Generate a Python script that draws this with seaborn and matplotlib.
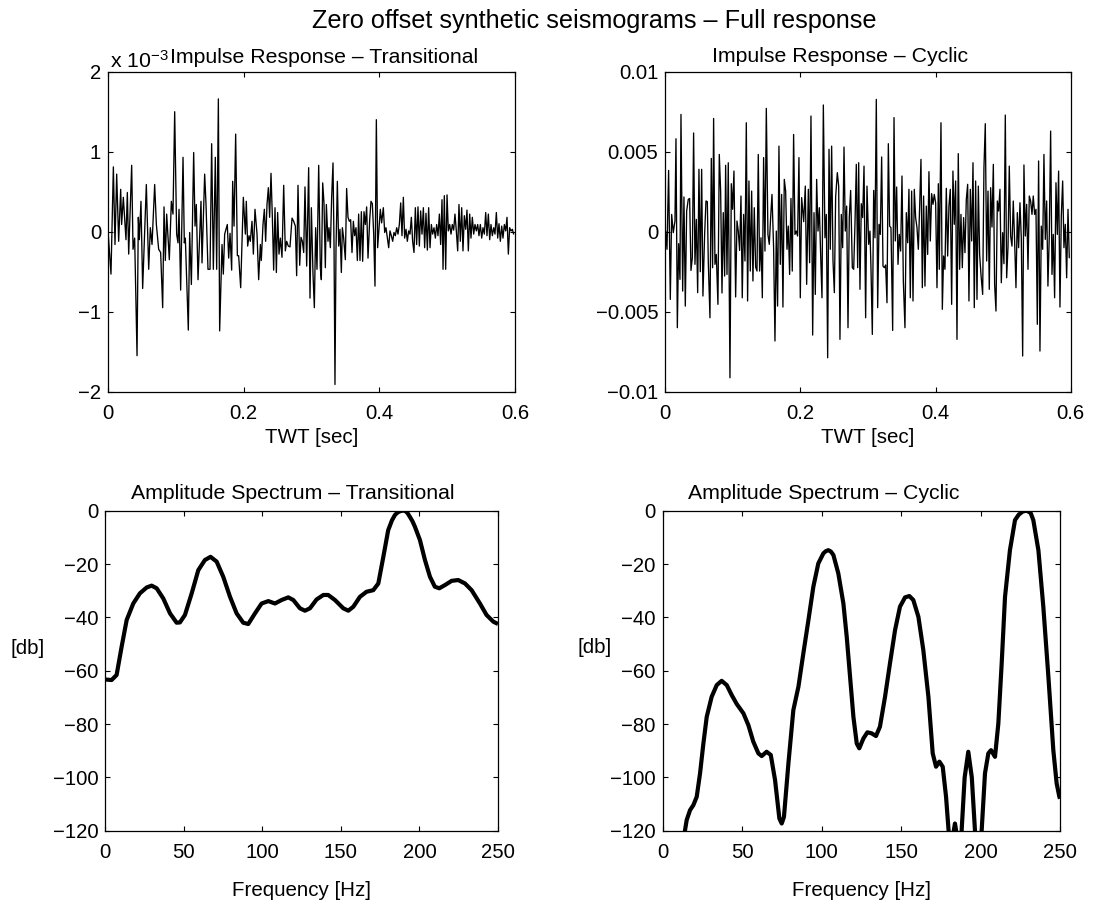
import numpy as np
import pandas as pd
import matplotlib
matplotlib.use("Agg")
import matplotlib.pyplot as plt
import seaborn as sns
from matplotlib.ticker import FixedLocator, FixedFormatter

# ---------------- data ----------------
# Impulse response - Transitional: time [ms], amplitude [x 1e-3]
trans_t_ms = [
    0.0, 4.4, 7.9, 10.3, 12.8, 15.7, 18.7, 20.1, 22.6, 26.5, 28.5, 30.5, 34.9, 36.9, 39.3, 42.8,
    44.7, 46.2, 48.6, 51.1, 56.5, 60.0, 62.4, 64.9, 68.8, 71.3, 74.7, 77.6, 80.6, 82.6, 84.5, 86.5,
    90.4, 93.4, 95.8, 98.3, 101.2, 103.2, 104.7, 107.1, 110.6, 112.5, 114.0, 118.4, 120.4, 122.9,
    126.3, 128.3, 130.2, 132.7, 137.1, 138.6, 142.5, 144.5, 147.4, 150.4, 152.8, 155.3, 158.2,
    160.2, 162.7, 164.6, 168.1, 170.0, 172.0, 175.9, 177.9, 179.9, 182.3, 183.8, 185.8, 188.2,
    190.7, 192.6, 195.6, 199.5, 202.5,
    203.9, 205.9, 207.9, 209.8, 212.3, 214.3, 216.7, 219.7, 222.1, 224.6,
    226.0, 228.5, 230.5, 232.4, 234.4, 236.4, 238.3, 240.3, 242.3, 244.2,
    246.2, 248.2, 250.1, 252.1, 254.1, 256.5, 259.0, 261.4, 263.4, 265.8,
    268.3, 271.3, 273.7, 276.2, 278.1, 280.1, 282.6, 284.5, 286.5, 288.5,
    290.4, 292.9, 295.8, 297.8, 299.8, 302.2, 304.2, 306.1, 308.1, 310.6,
    313.0, 314.5, 316.5, 318.4, 320.4, 321.9, 324.3, 325.8, 327.8, 329.7,
    331.7, 333.2, 334.6, 336.1, 338.1, 340.1, 342.0, 344.0, 345.5, 347.4,
    349.9, 351.8, 353.8, 355.8, 357.7, 359.7, 361.7, 363.6, 365.6, 367.6,
    369.5, 371.5, 373.5, 375.4, 377.4, 379.4, 381.3, 383.3, 385.8, 387.7,
    389.7, 391.7, 393.6, 395.6, 397.5, 399.5, 401.5, 403.4,
    405.9, 407.9, 409.8, 411.8, 413.8, 415.7, 417.7, 419.7, 421.6, 423.6,
    425.6, 427.5, 429.5, 431.5, 433.4, 435.4, 437.3, 439.3, 441.3, 443.2,
    445.2, 447.2, 449.1, 451.1, 453.1, 455.0, 457.0, 459.0, 460.9, 462.9,
    464.9, 466.8, 468.8, 470.8, 472.7, 474.7, 476.7, 478.6, 480.6, 482.6,
    484.5, 486.5, 488.5, 490.4, 492.4, 493.9, 495.8, 497.8, 499.8, 501.7,
    503.7, 505.7, 507.6, 509.6, 511.5, 513.5, 515.5, 517.4, 519.4, 521.4,
    523.3, 525.3, 527.3, 529.2, 531.2, 533.2, 535.1, 537.1, 539.1, 541.0,
    543.0, 545.0, 546.9, 548.9, 550.9, 552.8, 554.8, 556.8, 558.7, 560.7,
    562.7, 564.6, 566.6, 568.6, 570.5, 572.5, 574.5, 576.4, 578.4, 580.4,
    582.3, 584.3, 586.3, 588.2, 590.2, 592.1, 594.1, 596.1, 598.0,
]
trans_amp = [
    0.01, -0.53, 0.81, -0.16, 0.72, -0.12, 0.53, 0.09, 0.43, -0.10,
    0.49, -0.28, 0.83, -0.22, -0.08, -1.55, 0.18, -0.10, 0.38, -0.71,
    0.59, -0.47, 0.05, -0.16, 0.59, 0.09, -0.22, -0.26, -0.95, 0.31,
    -0.36, 0.22, -0.35, 0.38, 0.22, 1.50, -0.03, -0.14, 0.28, -0.73,
    0.93, -0.14, -0.08, -1.23, -0.01, -0.66, 0.99, 0.07, 0.34, -0.60,
    0.38, -0.39, 0.72, 0.34, -0.47, -0.47, 1.10, -0.47, 0.93, -0.47,
    1.66, -1.24, -0.16, -0.53, -0.03, 0.09, -0.33, -0.02, -0.48, 0.63,
    0.07, 1.22, -0.30, -0.30, -0.70, 0.43, -0.03,
    0.38, -0.18, -0.05, -0.12, 0.13, -0.28, 0.28, -0.03, -0.60, -0.16,
    -0.36, 0.09, 0.28, -0.12, 0.34, 0.55, 0.18, 0.73, 0.18, -0.48,
    0.30, -0.51, 0.24, -0.28, -0.08, -0.32, 0.58, -0.24, -0.12, -0.18,
    -0.19, 0.17, 0.13, 0.07, -0.55, 0.58, -0.42, -0.07, -0.12, -0.26,
    0.56, -0.43, 0.80, -0.83, 0.30, -0.53, -0.95, 0.05, -0.47, 0.83,
    -0.45, -0.60, 0.61, 0.36, -0.45, 0.34, -0.12, 0.05, -0.20, 0.43,
    0.86, -0.16, -1.91, -0.22, 0.63, -0.18, 0.03, -0.51, 0.05, -0.08,
    -0.35, 0.54, 0.18, 0.13, 0.15, -0.26, 0.13, -0.05, 0.05, -0.36,
    0.22, -0.36, 0.25, -0.37, 0.25, 0.09, 0.31, -0.33, 0.15, 0.38,
    0.35, -0.03, -0.68, 1.40, -0.20, 0.05, 0.28, 0.11,
    0.30, -0.01, 0.05, -0.08, -0.20, 0.01, -0.05, -0.12, -0.01, -0.05,
    0.05, -0.03, 0.09, 0.36, -0.05, 0.43, -0.08, 0.03, -0.12, 0.01,
    -0.03, 0.18, -0.12, -0.26, 0.30, -0.16, 0.31, -0.18, 0.26, -0.03,
    0.30, -0.20, 0.23, -0.23, 0.30, -0.20, 0.09, -0.03, 0.05, -0.08,
    0.09, -0.05, 0.22, -0.16, 0.40, -0.47, 0.45, -0.47, 0.46, 0.01,
    0.09, -0.03, 0.09, 0.02, 0.22, 0.01, -0.24, 0.34, -0.12, 0.30,
    -0.24, 0.20, 0.03, 0.27, -0.24, 0.22, -0.08, 0.18, -0.03, 0.09,
    0.01, 0.09, -0.05, 0.09, -0.08, 0.05, -0.03, 0.24, -0.05, 0.22,
    -0.10, 0.09, -0.05, 0.05, -0.03, 0.24, -0.08, 0.10, -0.12, 0.07,
    -0.08, 0.09, 0.01, 0.18, -0.28, 0.05, 0.01, 0.03, -0.03,
]

# Impulse response - Cyclic: time [ms], amplitude [x 1e-3]
cyc_t_ms = [
    0.5, 2.5, 4.9, 7.4, 9.4, 11.8, 14.3, 15.8, 17.8, 19.7,
    21.7, 23.2, 25.7, 27.6, 29.6, 31.6, 34.0, 36.0, 38.0, 40.0,
    41.9, 43.9, 45.9, 47.9, 49.8, 51.8, 53.8, 55.7, 58.2, 60.2,
    62.2, 63.6, 66.1, 68.1, 70.0, 71.5, 73.5, 75.5, 77.9, 79.9,
    81.9, 83.9, 85.8, 87.8, 89.3, 91.3, 93.2, 95.7, 97.7, 99.6,
    101.6, 104.1, 106.1, 108.0, 110.0, 112.0, 113.9, 115.9, 117.9, 119.9,
    121.8, 123.8, 125.8, 127.8, 129.7, 131.7, 133.7, 135.7, 137.6, 139.6,
    141.6, 143.6, 145.5, 147.5, 149.5, 151.9, 153.9, 155.9, 157.9, 160.3,
    162.3, 164.3, 166.2, 168.2, 170.2, 172.2, 174.1, 176.1, 178.1, 180.1,
    182.0, 184.0, 186.0, 187.9, 189.9, 191.9, 193.9, 195.8, 197.8, 199.8, 201.8,
    204.8, 207.2, 209.2, 211.7, 213.6, 215.6, 218.1, 220.1, 222.0, 224.0,
    226.0, 228.0, 229.9, 231.9, 233.9, 236.3, 238.3, 240.3, 242.3, 244.2,
    246.2, 248.2, 250.2, 252.1, 254.6, 256.6, 258.5, 260.5, 262.5, 264.5,
    266.4, 268.4, 270.4, 272.3, 274.3, 276.8, 278.8, 280.7, 282.7, 284.7,
    286.2, 288.1, 290.1, 292.1, 294.1, 296.5, 298.5, 301.0, 302.9, 304.4,
    306.4, 308.4, 310.3, 312.3, 314.3, 316.3, 318.2, 320.2, 322.2, 324.2,
    326.1, 328.1, 330.1, 332.0, 334.0, 336.5, 338.5, 340.4, 342.4, 344.4,
    346.3, 348.3, 350.3, 352.3, 354.7, 356.7, 358.7, 360.6, 362.6, 364.6,
    366.6, 368.5, 370.5, 372.5, 374.5, 376.4, 378.4, 380.4, 382.3, 384.3,
    386.3, 388.3, 390.2, 392.2, 394.2, 396.2, 398.1, 400.1, 402.1, 404.1,
    405.5, 408.0, 410.0, 411.9, 413.9, 415.9, 417.9, 419.8, 421.8, 423.8,
    425.7, 427.7, 429.7, 431.7, 433.6, 435.6, 437.6, 439.6, 441.5, 443.5,
    445.5, 447.5, 449.4, 451.4, 453.4, 455.4, 457.3, 459.3, 461.3, 463.3,
    465.2, 467.2, 469.7, 471.6, 473.6, 475.6, 477.6, 479.5, 481.5, 483.5,
    485.5, 487.4, 489.4, 491.4, 493.3, 495.3, 497.3, 499.3, 501.2, 503.2,
    505.2, 507.2, 509.1, 511.1, 513.1, 515.0, 517.0, 519.0, 521.0, 522.9,
    524.9, 526.9, 528.9, 530.8, 532.8, 534.8, 536.8, 538.7, 540.7, 542.7,
    544.6, 546.6, 548.6, 550.6, 552.5, 554.5, 556.5, 558.5, 560.4, 562.4,
    564.4, 566.3, 568.3, 570.3, 572.3, 574.2, 576.2, 578.2, 580.2, 582.1,
    584.1, 586.1, 588.1, 590.0, 592.0, 594.0, 596.0, 597.9,
]
cyc_amp = [
    0.04, -1.10, 3.83, -4.23, 1.08, -0.06, 0.67, 5.81, -6.00, -0.75,
    -2.98, 7.33, -3.71, 2.17, -4.65, 1.29, 2.02, 2.08, -2.42, -1.63,
    6.17, -2.04, 0.77, -3.81, 3.90, -2.50, 3.90, -4.02, -0.17, 1.92,
    1.88, -1.83, -5.38, 4.58, -2.25, 7.08, -2.04, -1.42, -4.54, 4.83,
    2.54, -3.83, 1.19, -2.77, 4.15, -2.67, 4.31, -9.13, 3.00, 1.40,
    3.79, -4.08, 0.67, 0.04, -1.17, 2.23, -4.13, 1.08, -1.83, 6.81,
    -4.33, 3.17, -2.46, 2.54, -3.08, 1.50, -2.21, -2.46, 4.83, -2.46,
    -0.38, -4.13, 4.63, -1.21, 7.71, -0.17, -0.79, 0.88, 2.33, -1.00,
    -6.83, 0.04, -4.65, 5.35, -2.04, 2.33, -4.71, 3.27, 2.54, -1.10,
    0.35, -2.67, 2.08, -2.46, 6.08, -0.17, 0.04, -0.27, 4.63, -4.13, 2.13,
    0.63, 2.85, -3.29, 2.65, -1.94, 7.23, -6.46, 1.19, -3.92, 3.27,
    0.04, 1.50, -1.42, -4.13, 7.92, -0.38, 1.08, -7.88, 5.15, -1.10,
    5.35, -1.83, -3.81, 2.17, 3.69, 2.85, -6.73, 1.08, -1.00, 5.29,
    0.04, 1.60, -6.00, 0.88, 2.58, -2.25, -2.35, 0.46, 4.21, -2.25,
    4.31, -3.60, 1.75, 0.88, 4.10, -5.38, 2.85, -0.79, 0.04, -2.25,
    -6.42, 2.58, -0.38, 8.27, -4.75, 0.46, -0.17, 4.67, -2.15, -2.25,
    -2.08, -4.44, 5.50, 0.35, 0.25, -6.17, 7.13, -0.58, 2.79, -2.04,
    -0.17, -1.21, 3.48, -3.08, -6.00, 1.19, -0.69, 2.65, -4.13, 2.54,
    -4.33, 2.65, 0.88, 0.25, -1.10, 1.50, 4.52, -3.50, 2.23, -3.40,
    1.60, -1.42, 3.75, -0.58, 2.38, 1.71, 2.33, 1.81, -3.50, 3.00,
    -2.35, 6.81, -4.85, -1.52, -2.35, 2.71, -1.52, 1.60, 2.65, -4.54,
    3.79, 0.46, 3.17, -6.73, 4.88, -2.35, 1.08, -2.25, 0.88, -1.31,
    2.02, 2.96, -4.33, 2.65, -0.58, 4.31, -4.75, 3.17, -4.23, 2.85,
    -1.42, -2.67, -3.92, 4.00, 6.75, -1.83, 2.54, -3.60, 2.75, 0.29,
    4.21, -3.29, -4.96, 1.92, 1.29, 2.65, -3.19, -0.06, -2.00, 7.29,
    -2.88, -0.96, 4.10, -0.27, -0.90, 1.92, -0.58, -3.50, 1.19, -1.00,
    1.81, -0.42, -7.77, 4.17, -0.27, 1.71, -2.35, 2.23, 1.92, 1.08,
    2.23, 1.08, 1.40, -5.79, 4.42, -7.46, 0.35, -1.10, 4.83, -0.48,
    1.92, -3.40, -0.27, 6.29, -2.67, -0.17, -4.13, 3.06, -0.17, 3.79,
    -4.71, 0.98, 3.17, -1.00, 0.46, -2.88, 1.40, -1.63,
]

# Amplitude spectra [dB]
trans_freq = [
    0, 4, 7.2, 10.4, 13.6, 17.8, 22, 26.3, 29.5, 32.7,
    36.9, 41.2, 45.4, 47.5, 50.7, 55, 59.2, 63.4, 67, 70.9,
    75.1, 79.4, 83.6, 87.8, 91, 95.3, 99.5, 103.8, 108, 112.2,
    116.5, 119.7, 123.9, 127.1, 130.3, 134.5, 138.8, 141.9, 146.2, 151.5,
    154.7, 157.9, 162.1, 166.3, 170.6, 173.8, 177, 180.1, 182.5, 184.4,
    186.0, 187.6, 189.0, 190.7, 192.3, 193.9, 195.5, 197.1, 200.3, 203.5,
    206.7, 209.8, 212.6, 216.2, 220.5, 224.7, 229, 233.2, 238.5, 242.7,
    247, 250,
]
trans_db = [
    -63.3, -63.5, -61.6, -51, -41, -34.8, -31, -28.8, -28.1, -29.1,
    -32.9, -38.5, -42, -41.9, -39.1, -31, -22.3, -18.5, -17.3, -19.1,
    -24.8, -32.3, -38.5, -42, -42.5, -38.5, -34.8, -33.9, -34.8, -33.5,
    -32.5, -33.5, -36.6, -37.5, -36.6, -33.3, -31.6, -31.6, -33.5, -36.6,
    -37.5, -36, -32.3, -30.4, -29.8, -27.3, -17.3, -7.3, -3.6, -1.6,
    -0.7, -0.2, 0, 0, -0.8, -2.3, -3.9, -6, -11, -18.5,
    -24.8, -28.5, -29.1, -27.9, -26.3, -26, -27.3, -29.8, -34.8, -39.1,
    -41.6, -42.5,
]
cyc_freq = [
    10, 14, 15.1, 17.2, 19.3, 21.4, 23.5, 25.6, 27.7, 30.8,
    34, 37.1, 40.3, 43.4, 46.6, 50.8, 53.9, 57, 60.2, 62.3,
    65.4, 68, 70.7, 73.4, 74.9, 76.3, 79.1, 82.2, 85.4, 88.5,
    91.7, 94.8, 97.9, 101.1, 102.6, 104.2, 105.8, 107.4, 110.5, 113.7,
    115.8, 117.9, 120, 122.1, 123.7, 126.3, 128.8, 131.5, 134.2, 136.7,
    139.9, 143, 146.2, 149.3, 152.5, 155.2, 157.7, 160.9, 164, 167.2,
    169.9, 172, 174.1, 176.2, 178.3, 179.9, 181.5, 183.9, 186.3, 188.1,
    190, 192.3, 194.5, 196.5, 198.5, 200.7, 202.8, 204.9, 206.6, 209.1,
    211.2, 213.3, 215.4, 218.5, 221.7, 224, 226.5, 229, 231.5, 233.2,
    236.4, 239.5, 242.7, 245.8, 247.9, 249.6, 250,
]
cyc_db = [
    -135, -120, -116, -112.3, -110.4, -107.3, -98.5, -87.3, -77.3, -69.8,
    -65.4, -63.8, -65.4, -69.1, -72.5, -76, -80.4, -86.6, -91, -92,
    -90.4, -91.6, -101, -115.4, -117.3, -114.8, -94.8, -74.8, -66, -53.5,
    -41, -28.5, -19.8, -16, -15.2, -14.8, -15.3, -16.6, -23.5, -34.8,
    -47.3, -62.3, -77.3, -87.3, -89.1, -85.4, -83.1, -83.5, -84.5, -81,
    -69.8, -57.3, -44.8, -36, -32.5, -32, -33.5, -39.8, -52.3, -69.8,
    -91, -96, -94.1, -96, -107.3, -120, -126, -117.3, -126, -120,
    -100, -90.4, -100, -120, -130, -120, -98.5, -91, -89.8, -92.3,
    -79.8, -57.3, -32.3, -14.8, -3.5, -1.5, -0.3, 0, -0.8, -3.5,
    -14.8, -36, -62.3, -89.8, -102.3, -107.3, -108,
]

# tick labels
twt_ticks = [0, 0.2, 0.4, 0.6]
twt_labels = ["0", "0.2", "0.4", "0.6"]
trans_yticks = [-2, -1, 0, 1, 2]
trans_ylabels = ["\u22122", "\u22121", "0", "1", "2"]
cyc_yticks = [-10, -5, 0, 5, 10]
cyc_ylabels = ["\u22120.01", "\u22120.005", "0", "0.005", "0.01"]
freq_ticks = [0, 50, 100, 150, 200, 250]
freq_labels = ["0", "50", "100", "150", "200", "250"]
db_ticks = [-120, -100, -80, -60, -40, -20, 0]
db_labels = ["\u2212120", "\u2212100", "\u221280", "\u221260", "\u221240", "\u221220", "0"]

# ---------------- styling ----------------
sns.set_style("white")
plt.rcParams['font.family'] = ['Liberation Sans', 'DejaVu Sans']
plt.rcParams['mathtext.fontset'] = 'custom'
plt.rcParams['mathtext.rm'] = 'Liberation Sans'
plt.rcParams['mathtext.it'] = 'Liberation Sans'
plt.rcParams['mathtext.bf'] = 'Liberation Sans'
plt.rcParams['text.color'] = 'black'
plt.rcParams['axes.labelcolor'] = 'black'
plt.rcParams['xtick.color'] = 'black'
plt.rcParams['ytick.color'] = 'black'
plt.rcParams['axes.edgecolor'] = 'black'

W, H = 1094, 907
fig = plt.figure(figsize=(W / 100, H / 100), dpi=100)
fig.patch.set_facecolor('white')


def box(l, t, r, b):
    return [l / W, 1 - b / H, (r - l) / W, (b - t) / H]


ax_tl = fig.add_axes(box(108, 71.7, 515, 391.7))
ax_tr = fig.add_axes(box(665.3, 71.7, 1070.7, 391.7))
ax_bl = fig.add_axes(box(105.3, 510.7, 498, 830.7))
ax_br = fig.add_axes(box(662.7, 510.7, 1060, 830.7))

TICK_FS = 14.6
LABEL_FS = 14.8
TITLE_FS = 15.3


def style(ax):
    for s in ax.spines.values():
        s.set_color('black')
        s.set_linewidth(0.9)
    ax.tick_params(direction='in', length=3.5, width=0.8, top=True, right=True,
                   bottom=True, left=True, labelsize=TICK_FS, colors='black')
    ax.tick_params(axis='y', pad=5)
    ax.tick_params(axis='x', pad=8.5)
    ax.set_facecolor('white')
    ax.grid(False)


# impulse responses
df_trans = pd.DataFrame({"t": np.array(trans_t_ms) / 1000.0,
                         "a": np.array(trans_amp)})
df_cyc = pd.DataFrame({"t": np.array(cyc_t_ms) / 1000.0,
                       "a": np.array(cyc_amp)})
sns.lineplot(data=df_trans, x="t", y="a", ax=ax_tl, color='black', linewidth=0.95,
             estimator=None, sort=False)
sns.lineplot(data=df_cyc, x="t", y="a", ax=ax_tr, color='black', linewidth=0.95,
             estimator=None, sort=False)

ax_tl.set_xlim(0, 0.6)
ax_tl.set_ylim(-2, 2)
ax_tr.set_xlim(0, 0.6)
ax_tr.set_ylim(-10, 10)

for ax, yt, yl in [(ax_tl, trans_yticks, trans_ylabels), (ax_tr, cyc_yticks, cyc_ylabels)]:
    style(ax)
    ax.xaxis.set_major_locator(FixedLocator(twt_ticks))
    ax.xaxis.set_major_formatter(FixedFormatter(twt_labels))
    ax.yaxis.set_major_locator(FixedLocator(yt))
    ax.yaxis.set_major_formatter(FixedFormatter(yl))
    ax.set_xlabel("TWT [sec]", fontsize=LABEL_FS, labelpad=4)
    ax.set_ylabel("")

ax_tl.set_title("Impulse Response \u2013 Transitional", fontsize=TITLE_FS, x=0.531, pad=6)
ax_tr.set_title("Impulse Response \u2013 Cyclic", fontsize=TITLE_FS, x=0.431, pad=7)
ax_tl.text(0.005, 1.0, r"x 10$^{-3}$", transform=ax_tl.transAxes, fontsize=TITLE_FS,
           ha='left', va='bottom')

# spectra
df_ts = pd.DataFrame({"f": trans_freq, "db": trans_db})
df_cs = pd.DataFrame({"f": cyc_freq, "db": cyc_db})
sns.lineplot(data=df_ts, x="f", y="db", ax=ax_bl, color='black', linewidth=3.0,
             estimator=None, sort=False)
sns.lineplot(data=df_cs, x="f", y="db", ax=ax_br, color='black', linewidth=3.0,
             estimator=None, sort=False)

for ax in (ax_bl, ax_br):
    style(ax)
    ax.set_xlim(0, 250)
    ax.set_ylim(-120, 0)
    ax.xaxis.set_major_locator(FixedLocator(freq_ticks))
    ax.xaxis.set_major_formatter(FixedFormatter(freq_labels))
    ax.yaxis.set_major_locator(FixedLocator(db_ticks))
    ax.yaxis.set_major_formatter(FixedFormatter(db_labels))
    ax.set_xlabel("Frequency [Hz]", fontsize=LABEL_FS, labelpad=14)
    ax.set_ylabel("[db]", fontsize=LABEL_FS, rotation=0, va='center', ha='center')
    for ln in ax.get_lines():
        ln.set_solid_joinstyle('round')
        ln.set_solid_capstyle('butt')

ax_bl.yaxis.set_label_coords(-0.198, 0.568)
ax_br.yaxis.set_label_coords(-0.172, 0.571)
ax_bl.set_title("Amplitude Spectrum \u2013 Transitional", fontsize=TITLE_FS, x=0.478, pad=8.5)
ax_br.set_title("Amplitude Spectrum \u2013 Cyclic", fontsize=TITLE_FS, x=0.405, pad=8.5)

fig.text(0.5434, 1 - 28.3 / H, "Zero offset synthetic seismograms \u2013 Full response",
         fontsize=18.2, ha='center', va='baseline')

fig.savefig("out.png", dpi=100, facecolor='white')
